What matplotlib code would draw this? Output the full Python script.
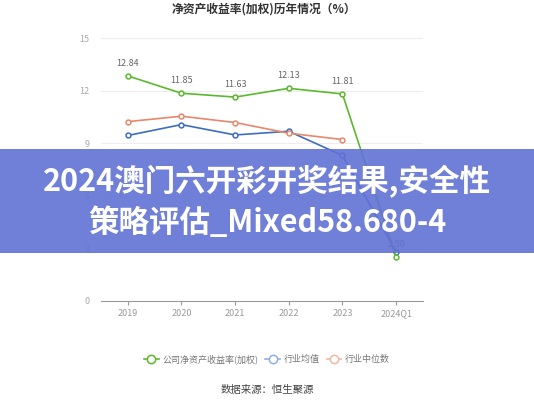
import matplotlib.pyplot as plt
from matplotlib.patches import Rectangle
from matplotlib.lines import Line2D

plt.rcParams['font.family'] = ['Noto Sans CJK SC', 'DejaVu Sans']

# 数据
years = ["2019", "2020", "2021", "2022", "2023", "2024Q1"]
roe_company = [12.84, 11.85, 11.63, 12.13, 11.81, 2.50]
roe_avg = [9.44, 10.06, 9.47, 9.68, 8.30, 2.80]
roe_median = [10.23, 10.54, 10.18, 9.57, 9.21]
y_ticks = [0, 3, 6, 9, 12, 15]

green = "#5cb82e"
blue = "#3d6cc0"
orange = "#e8876a"

fig = plt.figure(figsize=(5.34, 4), dpi=100)
ax = fig.add_axes([0.189, 0.2475, 0.603, 0.6575])

x = list(range(len(years)))
ax.plot(x, roe_company, color=green, lw=1.2, marker="o", ms=3.5,
        mfc="white", mew=1.1, zorder=4)
ax.plot(x, roe_avg, color=blue, lw=1.2, marker="o", ms=3.5,
        mfc="white", mew=1.1, zorder=3)
ax.plot(x[:len(roe_median)], roe_median, color=orange, lw=1.2, marker="o",
        ms=3.5, mfc="white", mew=1.1, zorder=3)

for xi, v in zip(x, roe_company):
    ax.annotate(f"{v:.2f}", (xi, v), xytext=(0, 6), textcoords="offset points",
                ha="center", va="bottom", fontsize=6.5, color="#666666")

ax.set_xlim(-0.5, len(years) - 0.5)
ax.set_ylim(0, 15)
ax.set_yticks(y_ticks)
ax.set_xticks(x)
ax.set_xticklabels(years)
ax.tick_params(axis="y", length=0, labelsize=6.5, labelcolor="#aaaaaa", pad=8)
ax.tick_params(axis="x", length=3, color="#999999", labelsize=6.5,
               labelcolor="#999999", pad=3)
ax.grid(axis="y", color="#eeeeee", lw=0.8)
ax.set_axisbelow(True)
for s in ["top", "right", "left"]:
    ax.spines[s].set_visible(False)
ax.spines["bottom"].set_color("#999999")

fig.text(0.495, 0.977, "净资产收益率(加权)历年情况（%）", ha="center", va="center",
         fontsize=8.5, fontweight="bold", color="#333333")

handles = [
    Line2D([], [], color=green, lw=1.2, marker="o", ms=6, mfc="white", mew=1.1),
    Line2D([], [], color="#8fb0e0", lw=1.2, marker="o", ms=6, mfc="white", mew=1.1),
    Line2D([], [], color="#f2b8a4", lw=1.2, marker="o", ms=6, mfc="white", mew=1.1),
]
fig.legend(handles, ["公司净资产收益率(加权)", "行业均值", "行业中位数"],
           loc="center", bbox_to_anchor=(0.5, 0.103), ncol=3, frameon=False,
           fontsize=6.5, labelcolor="#777777", handlelength=1.6,
           handletextpad=0.4, columnspacing=0.8)

fig.text(0.5, 0.025, "数据来源：恒生聚源", ha="center", va="center",
         fontsize=7.5, color="#444444")

# 半透明横幅
fig.add_artist(Rectangle((0, 1 - 253 / 400), 1, 104 / 400,
                         transform=fig.transFigure, color="#6171d4",
                         alpha=0.9, lw=0, zorder=10))
fig.text(0.5, 1 - 182 / 400, "2024澳门六开彩开奖结果,安全性", ha="center",
         va="center", fontsize=22, fontweight="heavy", color="white", zorder=11)
fig.text(0.5, 1 - 223 / 400, "策略评估_Mixed58.680-4", ha="center",
         va="center", fontsize=22, fontweight="heavy", color="white", zorder=11)

fig.savefig("out.png", dpi=100)
